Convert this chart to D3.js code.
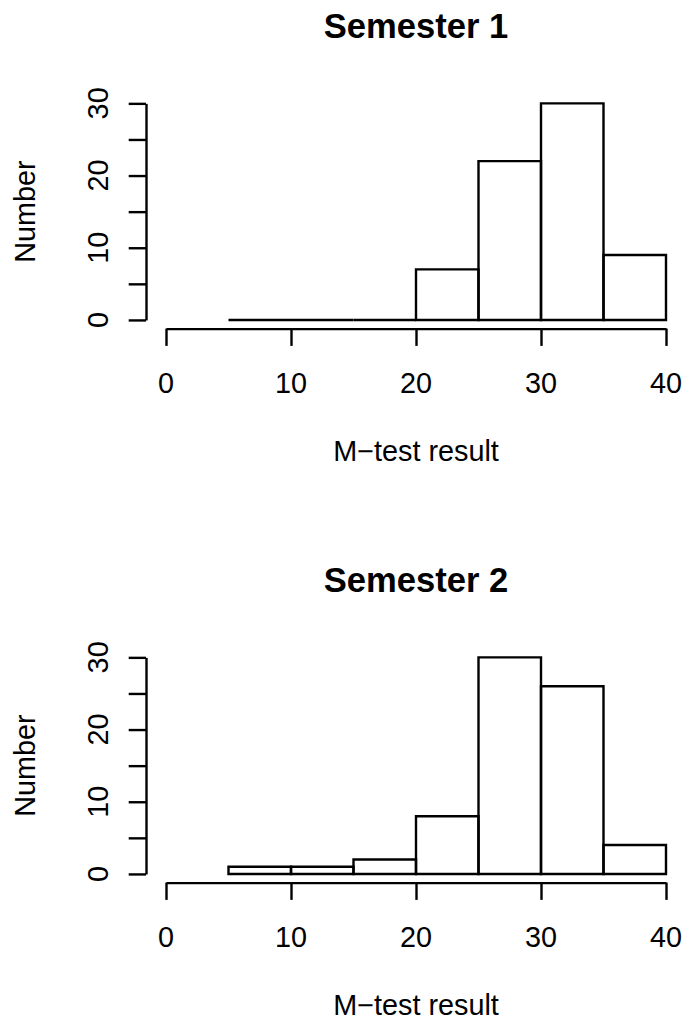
<!DOCTYPE html>
<html>
<head>
<meta charset="utf-8">
<script src="https://cdn.jsdelivr.net/npm/d3@7"></script>
<style>
  body { margin: 0; background: #fff; }
  svg { display: block; font-family: "Liberation Sans", Arial, Helvetica, sans-serif; }
</style>
</head>
<body>
<div id="chart"></div>
<script>
// Histogram bins (left edges), width 5
const binStarts = [5, 10, 15, 20, 25, 30, 35];
const binWidth = 5;
const sem1Counts = [0, 0, 0, 7, 22, 30, 9];
const sem2Counts = [1, 1, 2, 8, 30, 26, 4];
const titles = ["Semester 1", "Semester 2"];
const xTicks = [0, 10, 20, 30, 40];
const yTicks = [0, 5, 10, 15, 20, 25, 30];
const yLabels = [0, 10, 20, 30];

const W = 689, H = 1022;
const panelOffset = 554;
// plot region (per panel)
const plot = { left: 146, right: 686, top: 94.7, bottom: 328.6 };
const lw = 2.4;
const tick = 17.3;

const svg = d3.select("#chart")
    .append("svg")
    .attr("width", W)
    .attr("height", H);

function drawPanel(g, title, counts) {
    // usr range extended by 4% like R
    const x = d3.scaleLinear().domain([-1.6, 41.6]).range([plot.left, plot.right]);
    const y = d3.scaleLinear().domain([-1.2, 31.2]).range([plot.bottom, plot.top]);

    // bars (drawn as paths so empty bins still show a line)
    g.selectAll("path.bar")
        .data(binStarts.map((b, i) => ({ x0: b, x1: b + binWidth, n: counts[i] })))
        .join("path")
        .attr("class", "bar")
        .attr("d", d => `M${x(d.x0)},${y(0)}H${x(d.x1)}V${y(d.n)}H${x(d.x0)}Z`)
        .attr("fill", "none")
        .attr("stroke", "#000")
        .attr("stroke-width", lw)
        .attr("stroke-linejoin", "miter");

    // x axis (line from first to last tick)
    const xa = x.copy().domain([0, 40]).range([x(0), x(40)]);
    const gx = g.append("g")
        .attr("transform", `translate(0,${plot.bottom})`)
        .call(d3.axisBottom(xa).tickValues(xTicks).tickSizeInner(tick).tickSizeOuter(0).tickFormat(""));
    gx.selectAll("path, line").attr("stroke", "#000").attr("stroke-width", lw);
    g.selectAll("text.xlab")
        .data(xTicks)
        .join("text")
        .attr("class", "xlab")
        .attr("x", d => x(d))
        .attr("y", 393)
        .attr("text-anchor", "middle")
        .attr("font-size", 28.8)
        .text(d => d);

    // y axis
    const ya = y.copy().domain([0, 30]).range([y(0), y(30)]);
    const gy = g.append("g")
        .attr("transform", `translate(${plot.left},0)`)
        .call(d3.axisLeft(ya).tickValues(yTicks).tickSizeInner(tick).tickSizeOuter(0).tickFormat(""));
    gy.selectAll("path, line").attr("stroke", "#000").attr("stroke-width", lw);
    g.selectAll("text.ylab")
        .data(yLabels)
        .join("text")
        .attr("class", "ylab")
        .attr("transform", d => `translate(108,${y(d)}) rotate(-90)`)
        .attr("text-anchor", "middle")
        .attr("font-size", 28.8)
        .text(d => d);

    // titles
    g.append("text")
        .attr("x", (plot.left + plot.right) / 2)
        .attr("y", 37.5)
        .attr("text-anchor", "middle")
        .attr("font-size", 34.6)
        .attr("font-weight", "bold")
        .text(title);
    g.append("text")
        .attr("x", (plot.left + plot.right) / 2)
        .attr("y", 461)
        .attr("text-anchor", "middle")
        .attr("font-size", 28.8)
        .text("M\u2212test result");
    g.append("text")
        .attr("transform", `translate(35,${(plot.top + plot.bottom) / 2}) rotate(-90)`)
        .attr("text-anchor", "middle")
        .attr("font-size", 28.8)
        .text("Number");
}

[sem1Counts, sem2Counts].forEach((counts, i) => {
    const g = svg.append("g").attr("transform", `translate(0,${i * panelOffset})`);
    drawPanel(g, titles[i], counts);
});
</script>
</body>
</html>
